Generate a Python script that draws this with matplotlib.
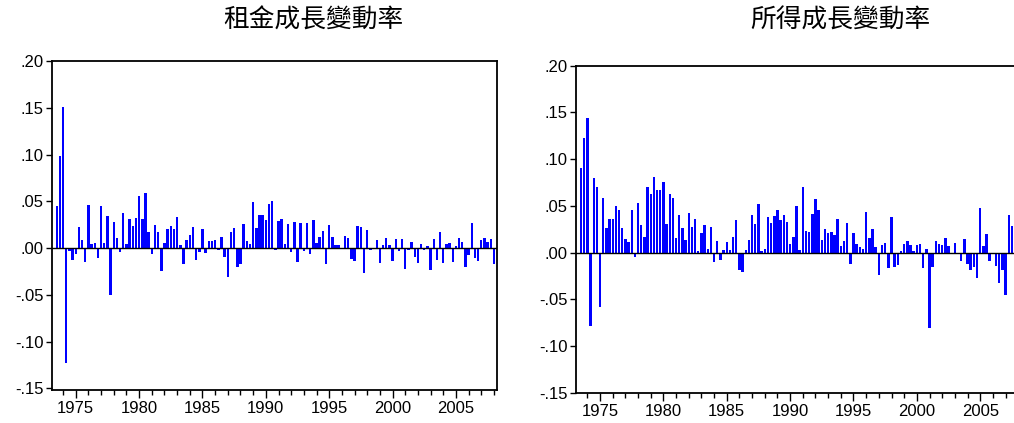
import matplotlib
matplotlib.use('Agg')
import matplotlib.pyplot as plt
import matplotlib.ticker as ticker
import pandas as pd

plt.rcParams['font.family'] = ['Liberation Sans', 'DejaVu Sans']

# quarterly growth rates, 1973Q3 onward
start_quarter = '1973Q3'

rent_growth = [
    0.045, 0.098, 0.151, -0.123, -0.003, -0.013, -0.006, 0.022, 0.0086, -0.015,
    0.046, 0.004, 0.005, -0.011, 0.045, 0.005, 0.034, -0.050, 0.028, 0.011,
    -0.004, 0.037, 0.004, 0.031, 0.024, 0.032, 0.056, 0.031, 0.059, 0.0175,
    -0.006, 0.025, 0.017, -0.025, 0.005, 0.020, 0.024, 0.020, 0.033, 0.003,
    -0.017, 0.009, 0.014, 0.022, -0.013, -0.004, 0.020, -0.005, 0.0075, 0.007,
    0.009, -0.002, 0.012, -0.010, -0.031, 0.0175, 0.021, -0.020, -0.0175, 0.026,
    0.008, 0.004, 0.049, 0.021, 0.035, 0.035, 0.030, 0.047, 0.050, -0.0025,
    0.029, 0.031, 0.004, 0.026, -0.004, 0.028, -0.015, 0.027, -0.003, 0.027,
    -0.006, 0.030, 0.005, 0.012, 0.0186, -0.0175, 0.025, 0.012, 0.0036, 0.0036,
    0.0, 0.0125, 0.011, -0.012, -0.0136, 0.024, 0.023, -0.027, 0.0196, -0.0025,
    0.0, 0.009, -0.016, 0.0036, 0.011, 0.003, -0.014, 0.010, -0.003, 0.0096,
    -0.022, -0.002, 0.006, -0.0096, -0.016, 0.004, -0.0025, 0.002, -0.024, 0.010,
    -0.0125, 0.017, -0.0164, 0.004, 0.005, -0.015, 0.002, 0.011, 0.006, -0.020,
    -0.007, 0.027, -0.011, -0.014, 0.009, 0.011, 0.006, 0.010, -0.017,
]

income_growth = [
    0.091, 0.123, 0.144, -0.079, 0.080, 0.070, -0.058, 0.0586, 0.026, 0.036,
    0.036, 0.050, 0.045, 0.026, 0.014, 0.011, 0.045, -0.005, 0.0525, 0.029,
    0.017, 0.070, 0.063, 0.081, 0.067, 0.067, 0.076, 0.031, 0.063, 0.058,
    0.016, 0.040, 0.026, 0.013, 0.0425, 0.027, 0.036, 0.002, 0.021, 0.029,
    0.004, 0.0275, -0.010, 0.0125, -0.008, 0.0025, 0.0114, 0.0025, 0.017, 0.035,
    -0.019, -0.021, 0.0025, 0.013, 0.040, 0.031, 0.052, 0.002, 0.004, 0.0375,
    0.032, 0.039, 0.046, 0.035, 0.040, 0.033, 0.0096, 0.017, 0.050, 0.003,
    0.070, 0.023, 0.022, 0.041, 0.057, 0.046, 0.013, 0.025, 0.021, 0.0225,
    0.0186, 0.036, 0.007, 0.012, 0.032, -0.012, 0.021, 0.0086, 0.006, 0.004,
    0.0436, 0.016, 0.025, 0.0064, -0.024, 0.008, 0.010, -0.017, 0.038, -0.0157,
    -0.013, 0.002, 0.009, 0.0125, 0.008, 0.002, 0.008, 0.009, -0.017, 0.004,
    -0.081, -0.0157, 0.012, 0.0096, 0.008, 0.016, 0.007, -0.002, 0.010, -0.002,
    -0.0096, 0.0146, -0.012, -0.0186, -0.015, -0.027, 0.048, 0.007, 0.0196, -0.0096,
    0.0, -0.014, -0.033, -0.0186, -0.045, 0.040, 0.028,
]

titles = ['租金成長變動率', '所得成長變動率']
y_ticks = [-0.15, -0.10, -0.05, 0.00, 0.05, 0.10, 0.15, 0.20]
year_labels = [1975, 1980, 1985, 1990, 1995, 2000, 2005]


def quarter_positions(n):
    periods = pd.period_range(start_quarter, periods=n, freq='Q')
    return [p.year + (p.quarter - 1) / 4 for p in periods]


def short_decimal(v, pos):
    s = f'{v:.2f}'
    return s.replace('0.', '.')


def draw_panel(ax, values, ymin):
    x = quarter_positions(len(values))
    ax.bar(x, values, width=0.19, color='#0000ff', linewidth=0)
    ax.axhline(0, color='black', linewidth=1.0)

    ax.set_xlim(1973.1, 2008.22)
    ax.set_ylim(ymin, 0.20)
    ax.set_yticks(y_ticks)
    ax.yaxis.set_major_formatter(ticker.FuncFormatter(short_decimal))
    ax.set_xticks(year_labels)
    ax.set_xticks(range(1974, 2009), minor=True)
    ax.xaxis.set_major_formatter(ticker.FuncFormatter(lambda v, p: str(int(v))))

    ax.tick_params(axis='both', which='major', direction='out', length=6, width=1.0,
                   labelsize=12, pad=2)
    ax.tick_params(axis='x', which='minor', direction='out', length=3.5, width=1.0)
    ax.tick_params(axis='y', length=4)
    for s in ax.spines.values():
        s.set_linewidth(1.3)
    ax.grid(False)


fig = plt.figure(figsize=(10.14, 4.23), dpi=100)

ax1 = fig.add_axes([51.7 / 1014, 1 - 390 / 423, 445 / 1014, (390 - 61) / 423])
draw_panel(ax1, rent_growth, -0.1518)

# right panel runs past the image edge, as in the original
ax2 = fig.add_axes([576 / 1014, 1 - 393.3 / 423, 445 / 1014, (393.3 - 65.7) / 423])
draw_panel(ax2, income_growth, -0.1507)

fig.text(313 / 1014, 1 - 21 / 423, titles[0], ha='center', va='center',
         fontsize=18.5, family=['Noto Sans CJK TC', 'DejaVu Sans'])
fig.text(840 / 1014, 1 - 21 / 423, titles[1], ha='center', va='center',
         fontsize=18.5, family=['Noto Sans CJK TC', 'DejaVu Sans'])

fig.savefig('out.png', dpi=100)
